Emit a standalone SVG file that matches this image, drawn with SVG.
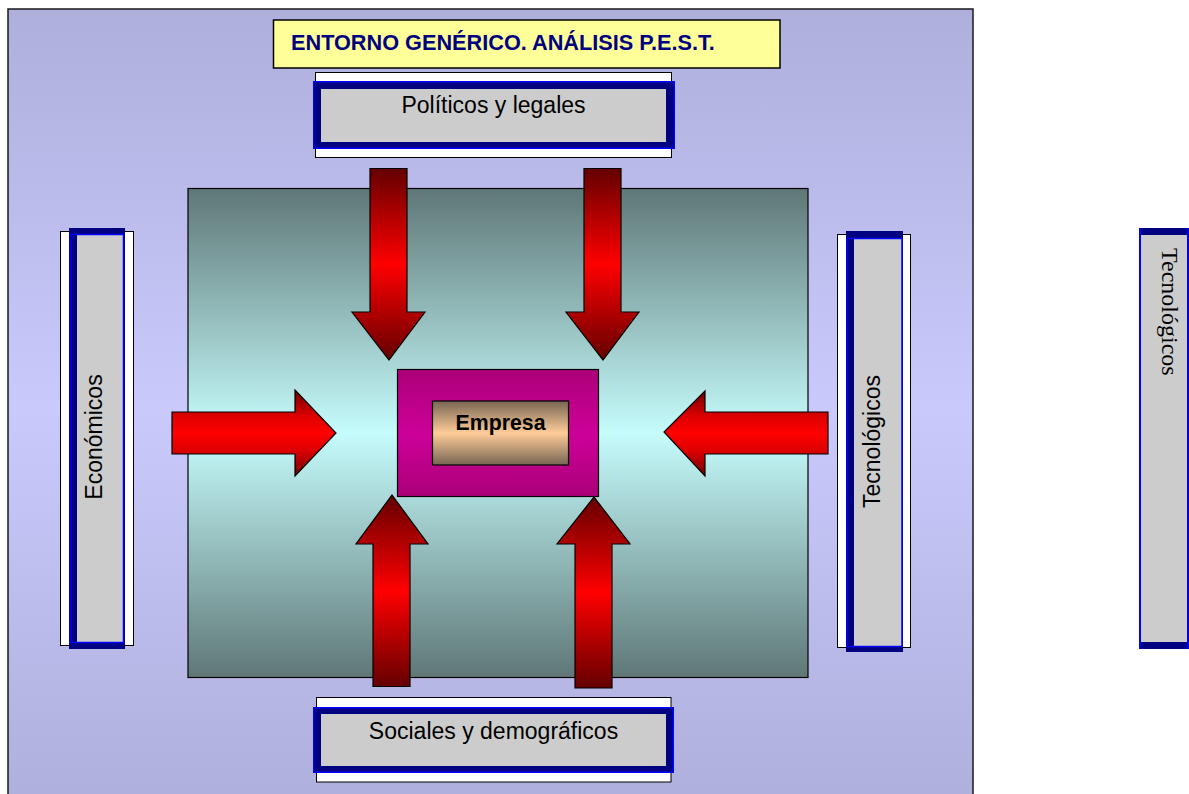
<svg xmlns="http://www.w3.org/2000/svg" width="1189" height="794" viewBox="0 0 1189 794">
<style>
.lbl{font-family:"Liberation Sans",Arial,sans-serif;font-size:23px;fill:#000;}
.white{fill:#fff;stroke:#000;stroke-width:1;}
.navy{fill:#000080;}
.grey{fill:#cccccc;}
.blue{fill:none;stroke:#0000ff;stroke-width:1.5;}
.arr{stroke:#000;stroke-width:1.2;stroke-linejoin:miter;}
</style>
<defs>
<linearGradient id="bg" x1="0" y1="0" x2="0" y2="1">
<stop offset="0" stop-color="#afafdc"/>
<stop offset="0.5" stop-color="#c9c9fc"/>
<stop offset="1" stop-color="#afafdc"/>
</linearGradient>
<linearGradient id="teal" x1="0" y1="0" x2="0" y2="1">
<stop offset="0" stop-color="#5f7777"/>
<stop offset="0.5" stop-color="#c6fcfc"/>
<stop offset="1" stop-color="#5f7777"/>
</linearGradient>
<linearGradient id="mag" x1="0" y1="0" x2="0" y2="1">
<stop offset="0" stop-color="#ac0079"/>
<stop offset="0.5" stop-color="#cc0099"/>
<stop offset="1" stop-color="#ac0079"/>
</linearGradient>
<linearGradient id="emp" x1="0" y1="0" x2="0" y2="1">
<stop offset="0" stop-color="#776553"/>
<stop offset="0.5" stop-color="#ffcc99"/>
<stop offset="1" stop-color="#776553"/>
</linearGradient>
<linearGradient id="arrV" x1="0" y1="0" x2="0" y2="1">
<stop offset="0" stop-color="#640000"/>
<stop offset="0.5" stop-color="#ff0000"/>
<stop offset="1" stop-color="#640000"/>
</linearGradient>
<linearGradient id="arrH" x1="0" y1="0" x2="0" y2="1">
<stop offset="0" stop-color="#700000"/>
<stop offset="0.3" stop-color="#dd0000"/>
<stop offset="0.5" stop-color="#ff0000"/>
<stop offset="0.7" stop-color="#dd0000"/>
<stop offset="1" stop-color="#700000"/>
</linearGradient>
</defs>

<rect x="0" y="0" width="1189" height="794" fill="#fff"/>

<g id="frame">
<rect x="8" y="9" width="965" height="800" fill="url(#bg)" stroke="#1a1a1a" stroke-width="1.5"/>
</g>

<g id="title">
<rect x="273.5" y="20" width="506.5" height="48" fill="#ffff99" stroke="#000" stroke-width="1.5"/>
<text x="291" y="49.5" font-family="Liberation Sans,Arial,sans-serif" font-size="21.7" font-weight="bold" fill="#000080">ENTORNO GENÉRICO. ANÁLISIS P.E.S.T.</text>
</g>

<g id="politicos">
<rect class="white" x="315.5" y="72.5" width="356" height="85"/>
<rect class="navy" x="313" y="81" width="362" height="68"/>
<rect class="grey" x="321" y="89" width="345" height="53"/>
<rect class="blue" x="313.75" y="81.75" width="360.5" height="66.5"/>
<text class="lbl" x="493.5" y="113" text-anchor="middle" font-size="23.2">Políticos y legales</text>
</g>

<g id="sociales">
<rect class="white" x="316.5" y="697.5" width="354.5" height="84.5"/>
<rect class="navy" x="313" y="707" width="361" height="66"/>
<rect class="grey" x="321" y="714" width="345" height="52"/>
<rect class="blue" x="313.75" y="707.75" width="359.5" height="64.5"/>
<text class="lbl" x="493.5" y="738.5" text-anchor="middle" font-size="23.4">Sociales y demográficos</text>
</g>

<g id="economicos">
<rect class="white" x="60.5" y="231.5" width="73" height="414"/>
<rect class="navy" x="69" y="228" width="56" height="421"/>
<rect class="grey" x="77" y="235" width="46" height="407"/>
<rect class="blue" x="70.5" y="234.5" width="53" height="408"/>
<text class="lbl" transform="translate(101.5,437) rotate(-90)" text-anchor="middle" font-size="23">Económicos</text>
</g>

<g id="tecnologicos">
<rect class="white" x="837.5" y="234.5" width="73" height="413"/>
<rect class="navy" x="846" y="231" width="57" height="421"/>
<rect class="grey" x="854" y="239" width="48" height="407"/>
<rect class="blue" x="847" y="238.5" width="55" height="408"/>
<text class="lbl" transform="translate(879.5,441.5) rotate(-90)" text-anchor="middle" font-size="22.5">Tecnológicos</text>
</g>

<g id="tecnologicos-2">
<rect class="navy" x="1139" y="228" width="52" height="421"/>
<rect class="grey" x="1141" y="235" width="46" height="407"/>
<line x1="1140" y1="228" x2="1140" y2="649" stroke="#0000ff" stroke-width="2"/>
<line x1="1188" y1="228" x2="1188" y2="649" stroke="#0000ff" stroke-width="2"/>
<text transform="translate(1162,248) rotate(90)" font-family="Liberation Serif,Times New Roman,serif" font-size="24" fill="#000">Tecnológicos</text>
</g>

<g id="entorno">
<rect x="188" y="188.5" width="620" height="489" fill="url(#teal)" stroke="#000" stroke-width="1.2"/>
</g>

<g id="empresa">
<rect x="397.5" y="369.5" width="201" height="127" fill="url(#mag)" stroke="#000" stroke-width="1.2"/>
<rect x="432.5" y="401" width="136" height="64" fill="url(#emp)" stroke="#000" stroke-width="1.2"/>
<text x="500.5" y="430" text-anchor="middle" font-family="Liberation Sans,Arial,sans-serif" font-size="21.3" font-weight="bold" fill="#000">Empresa</text>
</g>

<g id="connectors">
<polygon class="arr" fill="url(#arrV)" points="370,168.5 407,168.5 407,312 425,312 389,360 352,312 370,312"/>
<polygon class="arr" fill="url(#arrV)" points="584,168.5 621,168.5 621,312 639,312 603,360 566,312 584,312"/>
<polygon class="arr" fill="url(#arrV)" points="373,686.5 410,686.5 410,544 428,544 392,495 356,544 373,544"/>
<polygon class="arr" fill="url(#arrV)" points="575,688 612,688 612,544 630,544 594,497 557,544 575,544"/>
<polygon class="arr" fill="url(#arrH)" points="172,412 295,412 295,390 336,433 295,476 295,454 172,454"/>
<polygon class="arr" fill="url(#arrH)" points="828,412 705,412 705,391 664,432 705,476 705,454 828,454"/>
</g>
</svg>
